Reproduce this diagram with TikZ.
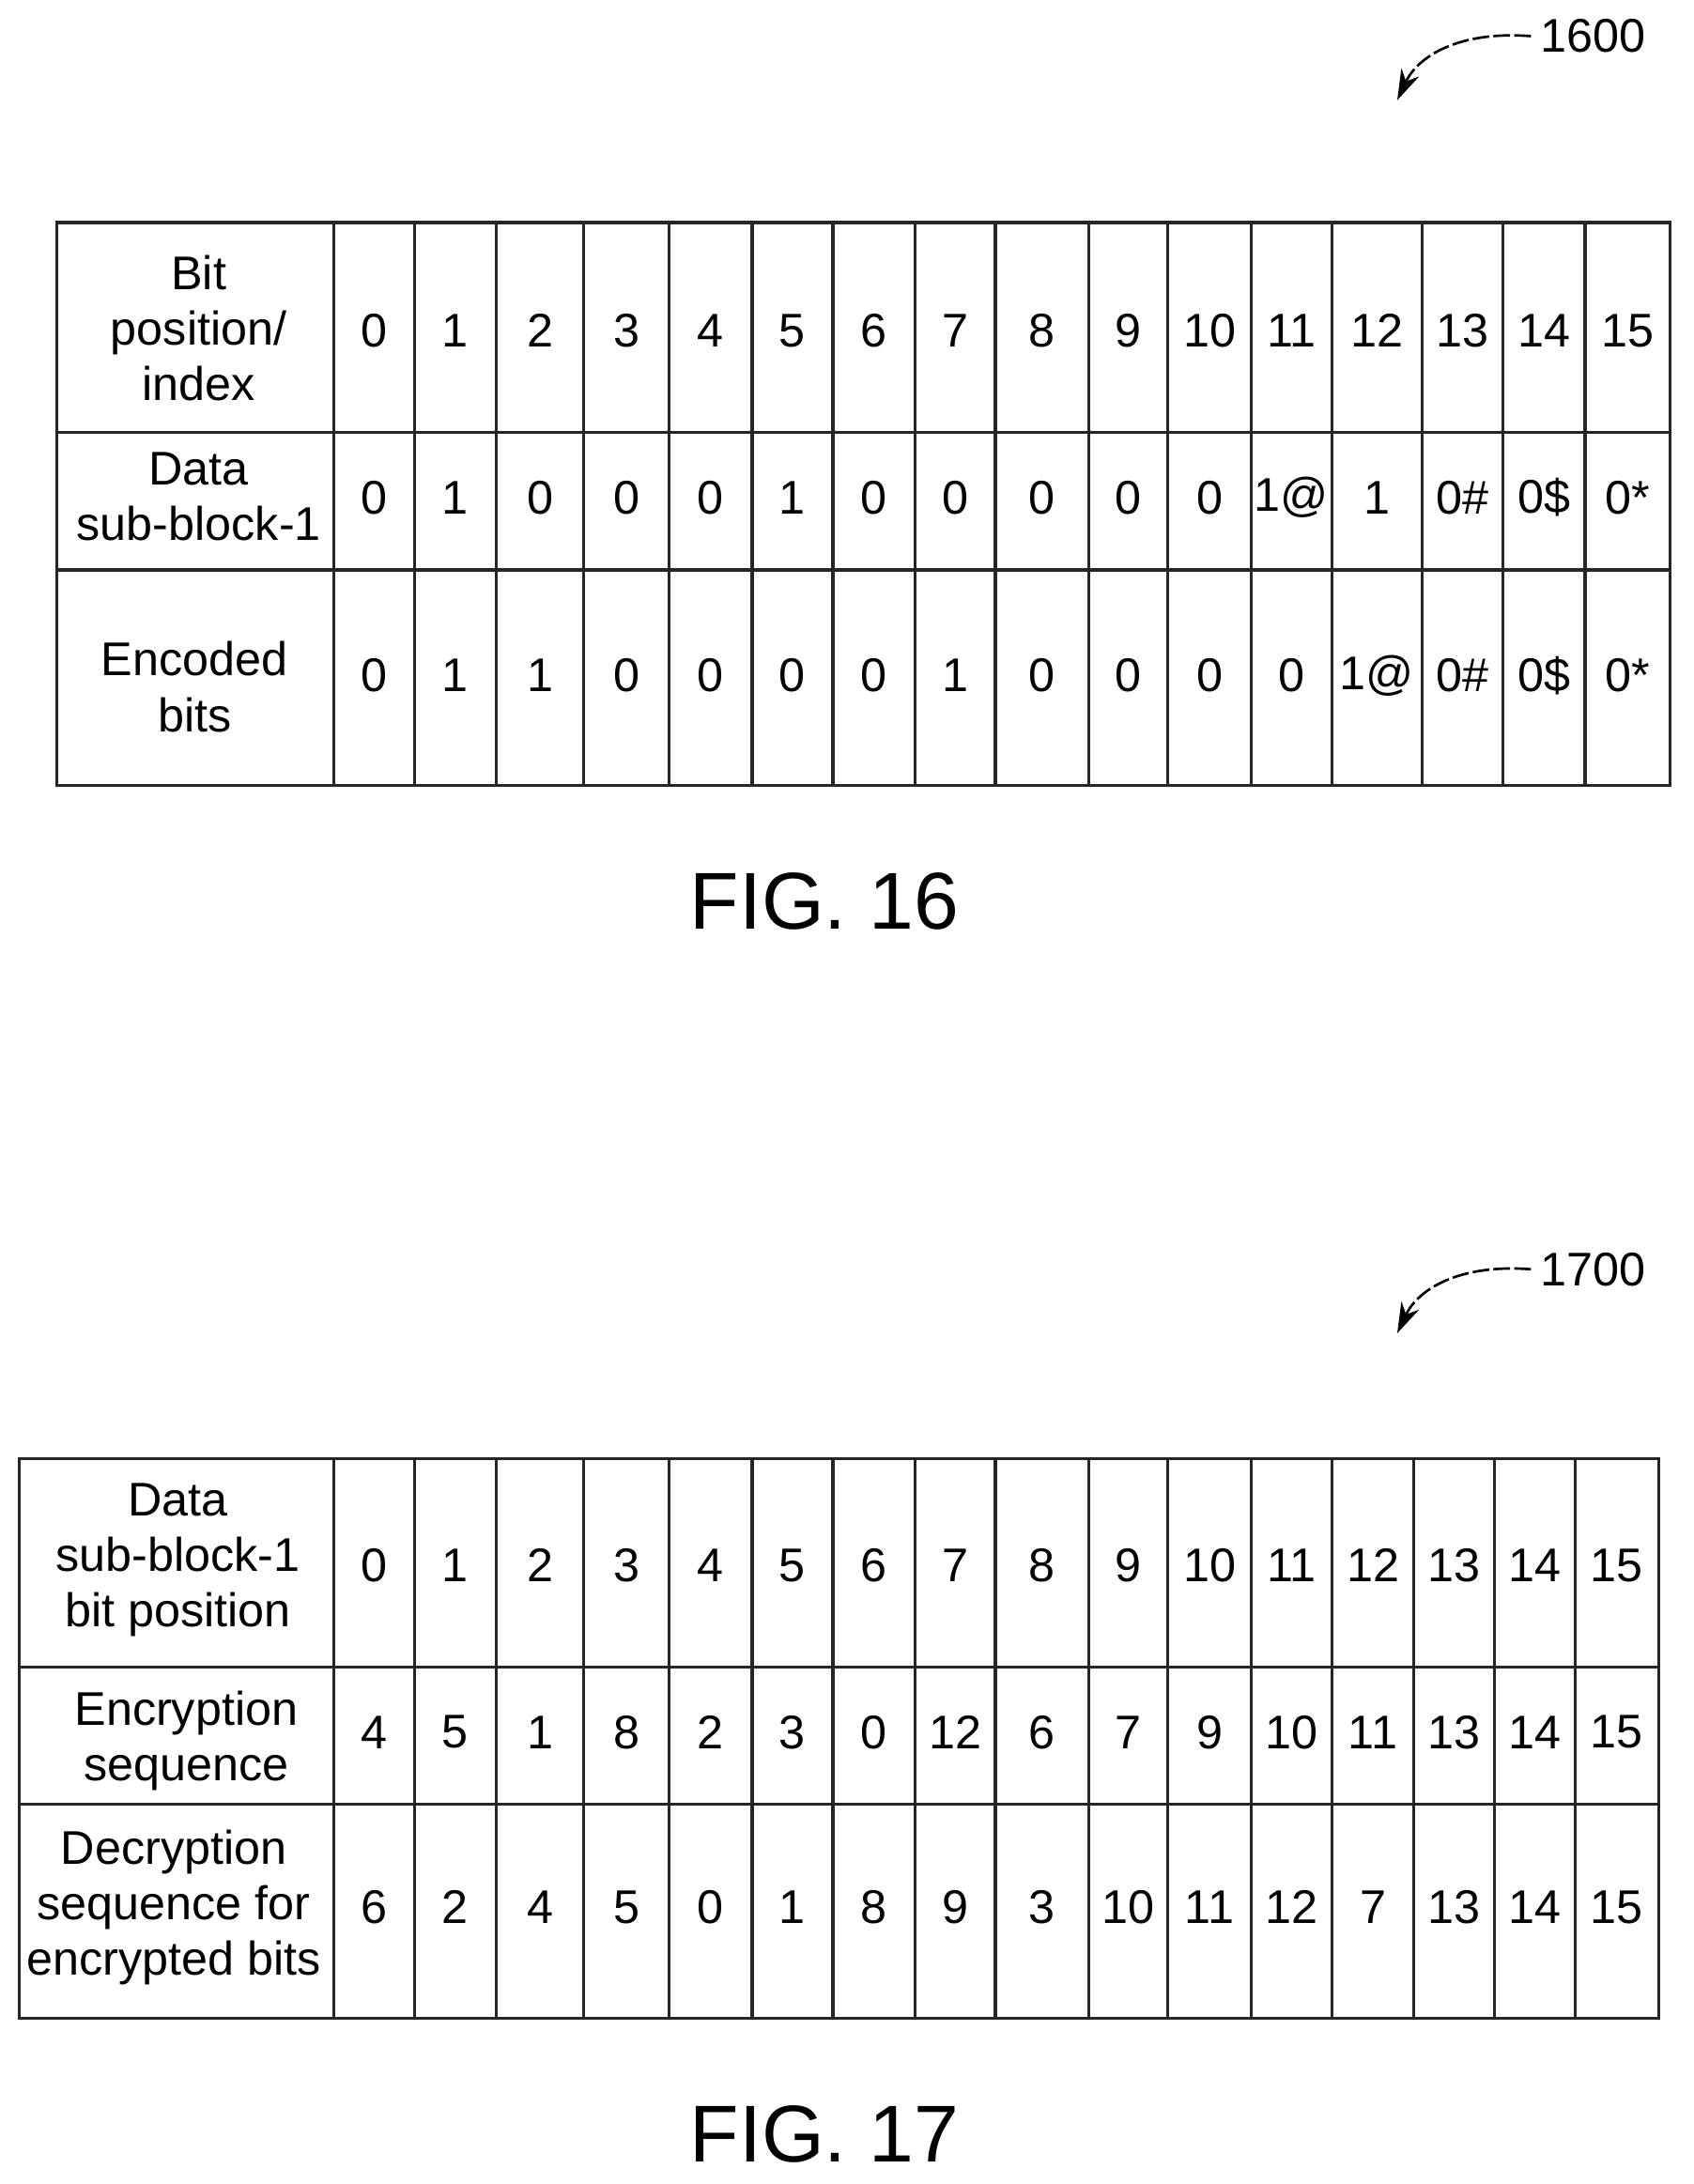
\documentclass[tikz,border=0pt]{standalone}
\usepackage{fontspec}
\setmainfont{Liberation Sans}
\usetikzlibrary{arrows.meta}
\begin{document}
\begin{tikzpicture}[x=0.5pt,y=-0.5pt,
  cell/.style={font=\fontsize{17}{20}\selectfont,align=center,inner sep=0pt},
  grid/.style={line width=1.1pt,color=black!85},
  figlab/.style={font=\fontsize{29}{32}\selectfont},
  reflab/.style={font=\fontsize{17}{20}\selectfont},
  leader/.style={line width=0.9pt,dashed,dash pattern=on 6pt off 1.5pt,-{Stealth[length=11pt,width=7pt]}}]
\useasboundingbox (0,0) rectangle (1218,1571);
% ---------- FIG 16 ----------
\def\colsA{240,298,357,420,481,541,599,658,716,783,840,900,958,1023,1081,1140,1201}
\draw[grid] (41,160) rectangle (1201,565);
\draw[grid] (41,311) -- (1201,311) (41,410) -- (1201,410);
\foreach \x in \colsA {\draw[grid] (\x,160) -- (\x,565);}
\node[cell] (a0) at (143,236) {Bit\\position/\\index};
\node[cell] (a1) at (143,357) {Data\\sub-block-1};
\node[cell] (a2) at (140,494) {Encoded\\bits};
\foreach \v [count=\i] in {0,1,2,3,4,5,6,7,8,9,10,11,12,13,14,15}{
  \pgfmathsetmacro\xa{{240,298,357,420,481,541,599,658,716,783,840,900,958,1023,1081,1140,1201}[\i-1]}
  \pgfmathsetmacro\xb{{240,298,357,420,481,541,599,658,716,783,840,900,958,1023,1081,1140,1201}[\i]}
  \node[cell] (p\i) at ({(\xa+\xb)/2},238) {\v};}
\foreach \v [count=\i] in {0,1,0,0,0,1,0,0,0,0,0,1@,1,0\#,0\$,0*}{
  \pgfmathsetmacro\xa{{240,298,357,420,481,541,599,658,716,783,840,900,958,1023,1081,1140,1201}[\i-1]}
  \pgfmathsetmacro\xb{{240,298,357,420,481,541,599,658,716,783,840,900,958,1023,1081,1140,1201}[\i]}
  \node[cell] (d\i) at ({(\xa+\xb)/2},358) {\v};}
\foreach \v [count=\i] in {0,1,1,0,0,0,0,1,0,0,0,0,1@,0\#,0\$,0*}{
  \pgfmathsetmacro\xa{{240,298,357,420,481,541,599,658,716,783,840,900,958,1023,1081,1140,1201}[\i-1]}
  \pgfmathsetmacro\xb{{240,298,357,420,481,541,599,658,716,783,840,900,958,1023,1081,1140,1201}[\i]}
  \node[cell] (e\i) at ({(\xa+\xb)/2},486) {\v};}
\node[figlab] (fig16) at (593,648) {FIG. 16};
\node[reflab] (r1600) at (1146,26) {1600};
\coordinate (t1600) at (1005,72);
\draw[leader] (r1600.west) .. controls (1050,22) and (1020,40) .. (t1600);
% ---------- FIG 17 ----------
\draw[grid] (14,1049) rectangle (1193,1452);
\draw[grid] (14,1199) -- (1193,1199) (14,1298) -- (1193,1298);
\foreach \x in {240,298,357,420,481,541,599,658,716,783,840,900,958,1017,1075,1133} {\draw[grid] (\x,1049) -- (\x,1452);}
\node[cell] (b0) at (128,1122) {Data\\sub-block-1\\bit position};
\node[cell] (b1) at (134,1252) {Encryption\\sequence};
\node[cell] (b2) at (125,1372) {Decryption\\sequence for\\encrypted bits};
\foreach \v [count=\i] in {0,1,2,3,4,5,6,7,8,9,10,11,12,13,14,15}{
  \pgfmathsetmacro\xa{{240,298,357,420,481,541,599,658,716,783,840,900,958,1017,1075,1133,1193}[\i-1]}
  \pgfmathsetmacro\xb{{240,298,357,420,481,541,599,658,716,783,840,900,958,1017,1075,1133,1193}[\i]}
  \node[cell] (q\i) at ({(\xa+\xb)/2},1126) {\v};}
\foreach \v [count=\i] in {4,5,1,8,2,3,0,12,6,7,9,10,11,13,14,15}{
  \pgfmathsetmacro\xa{{240,298,357,420,481,541,599,658,716,783,840,900,958,1017,1075,1133,1193}[\i-1]}
  \pgfmathsetmacro\xb{{240,298,357,420,481,541,599,658,716,783,840,900,958,1017,1075,1133,1193}[\i]}
  \node[cell] (s\i) at ({(\xa+\xb)/2},1246) {\v};}
\foreach \v [count=\i] in {6,2,4,5,0,1,8,9,3,10,11,12,7,13,14,15}{
  \pgfmathsetmacro\xa{{240,298,357,420,481,541,599,658,716,783,840,900,958,1017,1075,1133,1193}[\i-1]}
  \pgfmathsetmacro\xb{{240,298,357,420,481,541,599,658,716,783,840,900,958,1017,1075,1133,1193}[\i]}
  \node[cell] (u\i) at ({(\xa+\xb)/2},1372) {\v};}
\node[figlab] (fig17) at (593,1535) {FIG. 17};
\node[reflab] (r1700) at (1146,913) {1700};
\coordinate (t1700) at (1005,959);
\draw[leader] (r1700.west) .. controls (1050,909) and (1020,927) .. (t1700);
\end{tikzpicture}
\end{document}
